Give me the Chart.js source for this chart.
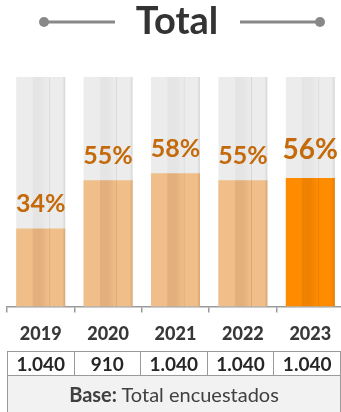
<!DOCTYPE html>
<html>
<head>
<meta charset="utf-8">
<script src="https://cdn.jsdelivr.net/npm/chart.js@4/dist/chart.umd.min.js"></script>
<style>
	html, body { margin: 0; padding: 0; background: #fff; width: 341px; height: 412px; overflow: hidden; }
	#wrap { position: relative; width: 341px; height: 412px; overflow: hidden; }
	#chart { position: absolute; left: 0; top: 0; }
	#base { position: absolute; left: 7px; top: 351px; border-collapse: collapse; font-family: Lato, sans-serif; color: #262626; }
	#base td { border: 1.5px solid #9a9a9a; height: 23px; width: 66px; text-align: center; font-weight: bold; font-size: 19px; padding: 0; line-height: 23px; }
	#base td.note { background: #f2f2f2; font-weight: normal; font-size: 20px; height: 36px; color: #404040; vertical-align: middle; padding-bottom: 4px; }
	#base td.note b { font-weight: bold; }
</style>
</head>
<body>
<div id="wrap">
	<canvas id="chart" width="345" height="356"></canvas>
	<table id="base"></table>
</div>
<script>
const years = ["2019", "2020", "2021", "2022", "2023"];
const percents = [34, 55, 58, 55, 56];
const bases = ["1.040", "910", "1.040", "1.040", "1.040"];
const fullBar = [100, 100, 100, 100, 100];

const barPct = 0.727;

function stripes(chart, i, base, mid, edge) {
	const sc = chart.scales.x;
	if (!chart.chartArea || !sc) return base;
	const cx = sc.getPixelForValue(i);
	const w = sc.width / years.length * barPct;
	const g = chart.ctx.createLinearGradient(cx - w / 2, 0, cx + w / 2, 0);
	g.addColorStop(0, base);
	g.addColorStop(0.33, base);
	g.addColorStop(0.34, mid);
	g.addColorStop(0.5, mid);
	g.addColorStop(0.66, base);
	g.addColorStop(0.675, edge);
	g.addColorStop(0.69, base);
	g.addColorStop(0.94, base);
	g.addColorStop(1, edge);
	return g;
}

// title with the two lines and dots
const titlePlugin = {
	id: "titleLines",
	afterDraw(chart) {
		const ctx = chart.ctx;
		ctx.save();
		ctx.fillStyle = "#333";
		ctx.font = "bold 38px Lato";
		ctx.textAlign = "center";
		ctx.textBaseline = "middle";
		ctx.fillText("Total", 177, 22);
		ctx.strokeStyle = "#888";
		ctx.fillStyle = "#888";
		ctx.lineWidth = 3;
		ctx.beginPath();
		ctx.moveTo(44, 22); ctx.lineTo(115, 22);
		ctx.moveTo(240, 22); ctx.lineTo(320, 22);
		ctx.stroke();
		[44, 320].forEach(x => {
			ctx.beginPath();
			ctx.arc(x, 22, 5, 0, Math.PI * 2);
			ctx.fill();
		});
		ctx.restore();
	}
};

const labelPlugin = {
	id: "pctLabels",
	afterDatasetsDraw(chart) {
		const ctx = chart.ctx;
		const meta = chart.getDatasetMeta(0);
		ctx.save();
		ctx.fillStyle = "#c46a0a";
		ctx.textAlign = "center";
		ctx.textBaseline = "middle";
		meta.data.forEach((bar, i) => {
			const last = i === years.length - 1;
			ctx.font = last ? "bold 28px Lato" : "bold 25px Lato";
			ctx.fillText(percents[i] + "%", bar.x, bar.y - (last ? 28 : 24));
		});
		ctx.restore();
	}
};

Chart.defaults.font.family = "Lato";

const ctx = document.getElementById("chart").getContext("2d");
new Chart(ctx, {
	type: "bar",
	data: {
		labels: years,
		datasets: [{
			data: percents,
			order: 0,
			backgroundColor: c => c.dataIndex === years.length - 1
				? stripes(c.chart, c.dataIndex, "#ff8c00", "#ef8200", "#e07800")
				: stripes(c.chart, c.dataIndex, "#efbe89", "#e3af7c", "#d9a672")
		}, {
			data: fullBar,
			order: 1,
			backgroundColor: c => stripes(c.chart, c.dataIndex, "#ececec", "#e5e5e5", "#d6d6d6")
		}]
	},
	options: {
		responsive: false,
		animation: false,
		layout: { padding: { top: 77, left: 7, right: 1, bottom: 0 } },
		datasets: { bar: { grouped: false, categoryPercentage: 1, barPercentage: barPct } },
		plugins: { legend: { display: false }, tooltip: { enabled: false } },
		scales: {
			y: { display: false, min: 0, max: 100 },
			x: {
				border: { display: true, color: "#9a9a9a", width: 1.5 },
				grid: { drawOnChartArea: false, drawTicks: true, tickLength: 6, color: "#9a9a9a", lineWidth: 1.5 },
				ticks: { color: "#383838", font: { size: 18, weight: "900" }, padding: 11 }
			}
		}
	},
	plugins: [titlePlugin, labelPlugin]
});

// base row table
const table = document.getElementById("base");
const row = document.createElement("tr");
bases.forEach(b => {
	const td = document.createElement("td");
	td.textContent = b;
	row.appendChild(td);
});
table.appendChild(row);
const noteRow = document.createElement("tr");
const note = document.createElement("td");
note.className = "note";
note.colSpan = bases.length;
note.innerHTML = "<b>Base:</b> Total encuestados";
noteRow.appendChild(note);
table.appendChild(noteRow);
</script>
</body>
</html>
